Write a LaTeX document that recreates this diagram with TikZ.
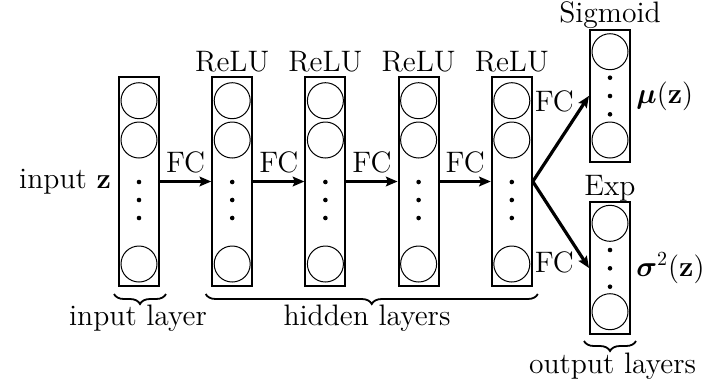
\documentclass[tikz,border=0pt]{standalone}
\usepackage{amsmath}
\usetikzlibrary{arrows.meta,decorations.pathreplacing,calc}
\begin{document}
\begin{tikzpicture}[x=0.5pt,y=-0.5pt,
  font=\fontsize{14.8}{17.5}\selectfont,
  layerbox/.style={draw, line width=1pt, minimum width=20pt, inner sep=0pt},
  neuron/.style={draw, circle, line width=0.5pt, minimum size=18pt, inner sep=0pt},
  unitdot/.style={fill, circle, minimum size=2.3pt, inner sep=0pt},
  link/.style={-{Stealth[length=5.8pt,width=4.8pt,inset=1pt]}, line width=1.6pt},
  grouping/.style={decorate, decoration={brace, mirror, amplitude=5pt}, line width=0.9pt}]
\useasboundingbox (0,0) rectangle (727,387);

% input and hidden layers
\foreach \i/\x in {1/139, 2/232.2, 3/325.4, 4/418.6, 5/511.8} {
  \node[layerbox, minimum height=104.5pt] (L\i) at (\x,181.5) {};
  \node[neuron] (L\i-a) at (\x,100.7) {};
  \node[neuron] (L\i-b) at (\x,140) {};
  \node[unitdot] (L\i-d1) at (\x,182) {};
  \node[unitdot] (L\i-d2) at (\x,200) {};
  \node[unitdot] (L\i-d3) at (\x,218) {};
  \node[neuron] (L\i-z) at (\x,264) {};
}

% activation labels
\foreach \i in {2,...,5}
  \node[anchor=base] (act\i) at ($(L\i.north)+(0,-4.3)$) {ReLU};

% fully connected links between consecutive layers
\foreach \i/\j in {1/2,2/3,3/4,4/5}
  \draw[link] (L\i.east) -- node[above] (fc\i) {FC} (L\j.west);

% output layers
\node[layerbox, minimum height=66pt] (S) at (610,95.8) {};
\node[neuron] (S-a) at (610,51.7) {};
\node[unitdot] (S-d1) at (610,77.7) {};
\node[unitdot] (S-d2) at (610,96) {};
\node[unitdot] (S-d3) at (610,114.3) {};
\node[neuron] (S-z) at (610,140) {};

\node[layerbox, minimum height=66pt] (E) at (610,268) {};
\node[neuron] (E-a) at (610,223.3) {};
\node[unitdot] (E-d1) at (610,250) {};
\node[unitdot] (E-d2) at (610,268.3) {};
\node[unitdot] (E-d3) at (610,286.7) {};
\node[neuron] (E-z) at (610,311.7) {};

\node[anchor=base] (actS) at (610,22.7) {Sigmoid};
\node[anchor=base] (actE) at (610,195) {Exp};

\node[right, inner sep=2.5pt] (mu) at (S.east) {$\boldsymbol{\mu}(\mathbf{z})$};
\node[right, inner sep=2.5pt] (sig) at (E.east) {$\boldsymbol{\sigma}^2(\mathbf{z})$};

\draw[link] (L5.east) -- node[pos=0.93, anchor=east, xshift=-1.5pt] (fcS) {FC} (S.west);
\draw[link] (L5.east) -- node[pos=0.93, anchor=east, xshift=-1.5pt] (fcE) {FC} (E.west);

% input label
\node[left] (inz) at (L1.west) {input $\mathbf{z}$};

% grouping braces
\draw[grouping] ($(L1.south west)+(-4,7)$) -- ($(L1.south east)+(6,7)$);
\draw[grouping] ($(L2.south west)+(-5.5,7)$) -- ($(L5.south east)+(5,7)$);
\draw[grouping] ($(E.south west)+(-5,6)$) -- ($(E.south east)+(5,6)$);

\node[anchor=base] (inlab) at (138,325) {input layer};
\node[anchor=base] (hidlab) at (367,325) {hidden layers};
\node[anchor=base] (outlab) at (612.5,373) {output layers};
\end{tikzpicture}
\end{document}
